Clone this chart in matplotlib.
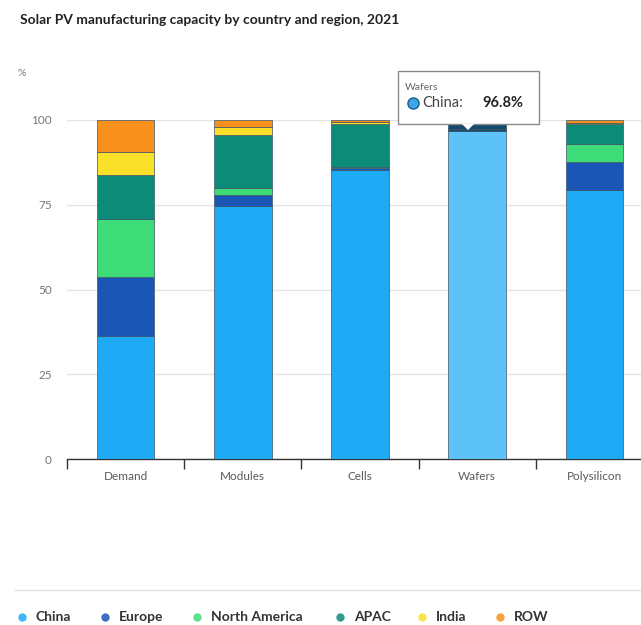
import matplotlib
matplotlib.use("Agg")
import matplotlib.pyplot as plt
from matplotlib.lines import Line2D
from matplotlib.patches import Rectangle, Polygon
import numpy as np

plt.rcParams['font.family'] = ['Lato', 'DejaVu Sans']

categories = ['Demand', 'Modules', 'Cells', 'Wafers', 'Polysilicon']
series_names = ['China', 'Europe', 'North America', 'APAC', 'India', 'ROW']
china = [36.3, 74.6, 85.3, 96.8, 79.4]
europe = [17.4, 3.3, 0.5, 0.6, 8.1]
north_america = [17.1, 2.0, 0.3, 0.0, 5.4]
apac = [13.0, 15.7, 12.7, 2.4, 5.9]
india = [6.8, 2.2, 0.7, 0.1, 0.2]
row = [9.4, 2.2, 0.5, 0.1, 1.0]
yticks = [0, 25, 50, 75, 100]

colors = ['#1eaaf5', '#1b55b5', '#3ddc78', '#0c8c78', '#fbe02a', '#f7901c']
hover_color = '#5cc2f8'
hover_others = '#124a6e'

W, H = 641, 625
fig = plt.figure(figsize=(W / 100, H / 100), dpi=100)
ax = fig.add_axes([67 / W, 1 - 459 / H, 586 / W, (459 - 120) / H])

data = [china, europe, north_america, apac, india, row]
x = np.arange(len(categories))
bottom = np.zeros(len(categories))
for i, (vals, c) in enumerate(zip(data, colors)):
    vals = np.array(vals)
    cols = [c] * len(categories)
    cols[3] = hover_color if i == 0 else hover_others
    ax.bar(x, vals, bottom=bottom, width=0.49, color=cols,
           edgecolor='#3d5566', linewidth=0.5, zorder=3)
    bottom += vals

ax.set_xlim(-0.5, 4.5)
ax.set_ylim(0, 100)
ax.set_yticks(yticks)
ax.set_yticklabels([str(v) for v in yticks], fontsize=8.5, color='#777777')
ax.tick_params(axis='y', length=0, pad=11)
ax.yaxis.grid(True, color='#e4e4e4', linewidth=1, zorder=0)
ax.set_axisbelow(True)

ax.set_xticks(x)
ax.set_xticklabels(categories, fontsize=8.5, color='#5a5a5a')
ax.tick_params(axis='x', which='major', length=0, pad=9)
ax.set_xticks(np.arange(-0.5, 4.5, 1.0), minor=True)
ax.tick_params(axis='x', which='minor', length=7, width=1, color='#333333', direction='out')

for s in ['top', 'right', 'left']:
    ax.spines[s].set_visible(False)
ax.spines['bottom'].set_color('#333333')
ax.spines['bottom'].set_linewidth(1)

# title and unit
fig.text(20 / W, 1 - 20 / H, 'Solar PV manufacturing capacity by country and region, 2021',
         fontsize=10, fontweight='bold', color='#222222', va='center', ha='left')
fig.text(18 / W, 1 - 73 / H, '%', fontsize=7.5, color='#777777', va='center', ha='left')

# tooltip
tx0, tx1, ty0, ty1 = 398, 539, 71, 124
fig.patches.append(Rectangle((tx0 / W, 1 - ty1 / H), (tx1 - tx0) / W, (ty1 - ty0) / H,
                             transform=fig.transFigure, facecolor='white',
                             edgecolor='#8a8a8a', linewidth=1, zorder=10))
fig.patches.append(Polygon([(462 / W, 1 - ty1 / H), (474 / W, 1 - ty1 / H), (468 / W, 1 - 130 / H)],
                           closed=True, transform=fig.transFigure, facecolor='white',
                           edgecolor='none', zorder=11))
fig.text(405 / W, 1 - 88 / H, 'Wafers', fontsize=7.5, color='#666666', va='center', ha='left', zorder=12)
fig.lines.append(Line2D([413 / W], [1 - 103 / H], transform=fig.transFigure, marker='o',
                        markersize=8, markerfacecolor='#3aa8e8', markeredgecolor='#1a5a8a',
                        markeredgewidth=1, linestyle='none', zorder=12))
fig.text(422 / W, 1 - 103 / H, 'China:', fontsize=10.5, color='#444444', va='center', ha='left', zorder=12)
fig.text(482 / W, 1 - 103 / H, '96.8%', fontsize=10.5, color='#222222', fontweight='bold',
         va='center', ha='left', zorder=12)

# separator line
fig.lines.append(Line2D([15 / W, 1.0], [1 - 590 / H, 1 - 590 / H], transform=fig.transFigure,
                        color='#e2e2e2', linewidth=1))

# legend (manual placement)
leg_x = [22, 105, 197, 340, 422, 500]
ly = 1 - 617 / H
for name, c, lx in zip(series_names, colors, leg_x):
    fig.lines.append(Line2D([lx / W], [ly], transform=fig.transFigure, marker='o',
                            markersize=6, markerfacecolor=c, markeredgecolor='none',
                            alpha=0.85, linestyle='none'))
    fig.text((lx + 14) / W, ly, name, fontsize=10, fontweight='bold', color='#333333',
             va='center', ha='left')

fig.savefig('out.png', dpi=100)
